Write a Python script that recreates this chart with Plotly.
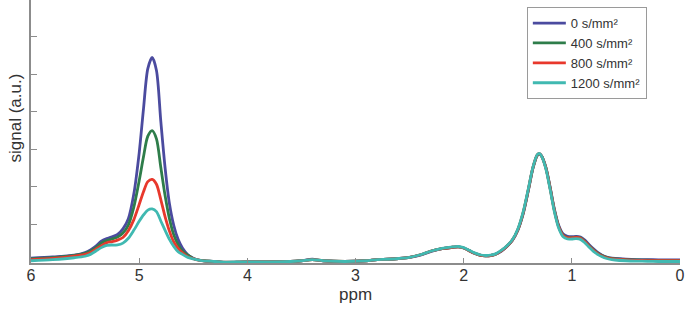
import plotly.graph_objects as go

# chemical shift grid (ppm)
ppm = [6.0, 5.8, 5.6, 5.5, 5.45, 5.4, 5.35, 5.3, 5.25, 5.2, 5.15, 5.1, 5.05, 5.0, 4.96, 4.92, 4.88,
       4.84, 4.8, 4.76, 4.72, 4.68, 4.64, 4.6, 4.55, 4.5, 4.45, 4.4, 4.3, 4.2, 4.1, 4.0, 3.8, 3.6,
       3.5, 3.4, 3.3, 3.1, 2.9, 2.8, 2.7, 2.6, 2.5, 2.4, 2.3, 2.2, 2.1, 2.05, 2.0, 1.95, 1.9, 1.85,
       1.8, 1.75, 1.7, 1.65, 1.6, 1.55, 1.5, 1.45, 1.4, 1.36, 1.32, 1.3, 1.28, 1.24, 1.2, 1.16,
       1.12, 1.08, 1.04, 1.0, 0.96, 0.92, 0.88, 0.84, 0.8, 0.75, 0.7, 0.65, 0.6, 0.5, 0.4, 0.3,
       0.2, 0.1, 0.0]

b0 = [0.10, 0.13, 0.18, 0.25, 0.32, 0.42, 0.55, 0.62, 0.67, 0.73, 0.88, 1.15, 1.80, 2.90, 4.08, 5.15, 5.45,
      5.10, 3.75, 2.50, 1.55, 0.97, 0.60, 0.37, 0.19, 0.098, 0.05, 0.026, 0.01, -0.02, -0.01, 0.0, 0.0, 0.01,
      0.03, 0.07, 0.03, 0.01, 0.03, 0.06, 0.07, 0.09, 0.12, 0.18, 0.28, 0.35, 0.39, 0.40, 0.37, 0.30, 0.23, 0.18,
      0.16, 0.17, 0.21, 0.29, 0.41, 0.57, 0.84, 1.28, 1.93, 2.49, 2.84, 2.88, 2.83, 2.52, 1.98, 1.39,
      0.96, 0.74, 0.68, 0.67, 0.68, 0.66, 0.58, 0.46, 0.35, 0.23, 0.15, 0.11, 0.09, 0.07, 0.06, 0.06,
      0.055, 0.055, 0.055]

b400 = [0.08, 0.11, 0.17, 0.23, 0.29, 0.38, 0.50, 0.57, 0.61, 0.66, 0.77, 0.98, 1.45, 2.16, 2.80, 3.35, 3.50,
        3.28, 2.52, 1.76, 1.15, 0.72, 0.46, 0.29, 0.18, 0.09, 0.05, 0.03, 0.01, -0.015, -0.01, 0.0, 0.0, 0.01,
        0.03, 0.06, 0.03, 0.01, 0.03, 0.06, 0.07, 0.09, 0.12, 0.19, 0.29, 0.35, 0.39, 0.40, 0.37, 0.30, 0.23, 0.18,
        0.16, 0.17, 0.21, 0.30, 0.42, 0.58, 0.85, 1.30, 1.95, 2.50, 2.84, 2.88, 2.82, 2.51, 1.96, 1.36,
        0.93, 0.71, 0.65, 0.65, 0.66, 0.64, 0.55, 0.43, 0.32, 0.21, 0.14, 0.10, 0.08, 0.06, 0.05, 0.045,
        0.04, 0.04, 0.04]

b800 = [0.06, 0.09, 0.15, 0.20, 0.25, 0.34, 0.43, 0.51, 0.54, 0.58, 0.65, 0.83, 1.12, 1.53, 1.87, 2.14, 2.20,
        2.07, 1.66, 1.20, 0.82, 0.53, 0.36, 0.24, 0.14, 0.086, 0.045, 0.025, 0.01, -0.01, -0.005, 0.0, 0.0, 0.01,
        0.03, 0.06, 0.03, 0.01, 0.03, 0.06, 0.07, 0.09, 0.12, 0.19, 0.29, 0.35, 0.39, 0.40, 0.37, 0.30, 0.23, 0.18,
        0.16, 0.17, 0.21, 0.30, 0.42, 0.58, 0.85, 1.31, 1.96, 2.51, 2.85, 2.89, 2.82, 2.50, 1.95, 1.35,
        0.92, 0.70, 0.64, 0.64, 0.65, 0.63, 0.54, 0.42, 0.31, 0.20, 0.13, 0.09, 0.07, 0.05, 0.04, 0.035,
        0.03, 0.03, 0.03]

b1200 = [0.03, 0.06, 0.11, 0.15, 0.20, 0.29, 0.38, 0.44, 0.45, 0.45, 0.50, 0.63, 0.84, 1.08, 1.25, 1.38, 1.41,
         1.34, 1.09, 0.84, 0.60, 0.41, 0.27, 0.20, 0.12, 0.08, 0.045, 0.025, 0.01, -0.005, 0.0, 0.0, 0.0, 0.01,
         0.03, 0.06, 0.03, 0.01, 0.03, 0.06, 0.07, 0.09, 0.12, 0.19, 0.29, 0.36, 0.40, 0.41, 0.38, 0.31, 0.24, 0.19,
         0.17, 0.18, 0.22, 0.31, 0.43, 0.59, 0.87, 1.33, 1.98, 2.52, 2.86, 2.89, 2.82, 2.48, 1.92, 1.32,
         0.89, 0.67, 0.61, 0.61, 0.62, 0.60, 0.51, 0.39, 0.28, 0.18, 0.11, 0.07, 0.05, 0.03, 0.02, 0.015,
         0.01, 0.01, 0.01]

names = ["0 s/mm²", "400 s/mm²", "800 s/mm²", "1200 s/mm²"]
series = [b0, b400, b800, b1200]
colors = ["#4b4b9f", "#2e7d4a", "#e8382c", "#40b9b1"]

x_ticks = [6, 5, 4, 3, 2, 1, 0]
x_ticktext = ["6", "5", "4", "3", "2", "1", "0"]
y_ticks = [1, 2, 3, 4, 5, 6]

fig = go.Figure()
for nm, ys, c in zip(names, series, colors):
    fig.add_trace(go.Scatter(x=ppm, y=ys, mode="lines", name=nm,
                             line=dict(color=c, width=2.8, shape="spline", smoothing=0.8)))

axis_font = dict(family="Liberation Sans Narrow, Arial Narrow, Liberation Sans, Arial", size=16, color="#333333")

fig.update_layout(
    width=700, height=321,
    margin=dict(l=31, r=20, t=0, b=58),
    paper_bgcolor="white", plot_bgcolor="white",
    showlegend=True,
    legend=dict(x=0.764, y=0.973, xanchor="left", yanchor="top",
                bgcolor="white", bordercolor="#9a9a9a", borderwidth=1,
                font=dict(family="Liberation Sans, Arial", size=13, color="#333333"),
                tracegroupgap=0, itemwidth=33),
    xaxis=dict(range=[6, 0], tickvals=x_ticks, ticktext=x_ticktext,
               ticks="inside", ticklen=5, tickcolor="#8c8c8c", tickwidth=1.3,
               showline=True, linecolor="#8c8c8c", linewidth=1.5, ticklabelstandoff=-3,
               showgrid=False, zeroline=False, tickfont=axis_font),
    yaxis=dict(range=[-0.03, 6.98], tickvals=y_ticks, showticklabels=False,
               ticks="inside", ticklen=6, tickcolor="#8c8c8c", tickwidth=1.3,
               showline=True, linecolor="#8c8c8c", linewidth=1.5,
               showgrid=False, zeroline=False),
    annotations=[
        dict(text="ppm", xref="paper", yref="paper", x=0.5, y=-0.118, xanchor="center", yanchor="middle",
             showarrow=False, font=dict(family="Liberation Sans Narrow, Arial Narrow, Liberation Sans, Arial",
                                        size=17, color="#333333")),
        dict(text="signal (a.u.)", xref="paper", yref="paper", x=-0.024, y=0.551, xanchor="center",
             yanchor="middle", textangle=-90, showarrow=False,
             font=dict(family="Liberation Sans, Arial", size=17, color="#333333")),
    ],
)

fig.write_html("out.html", config={"displayModeBar": False},
               post_script="document.body.style.margin='0';")
